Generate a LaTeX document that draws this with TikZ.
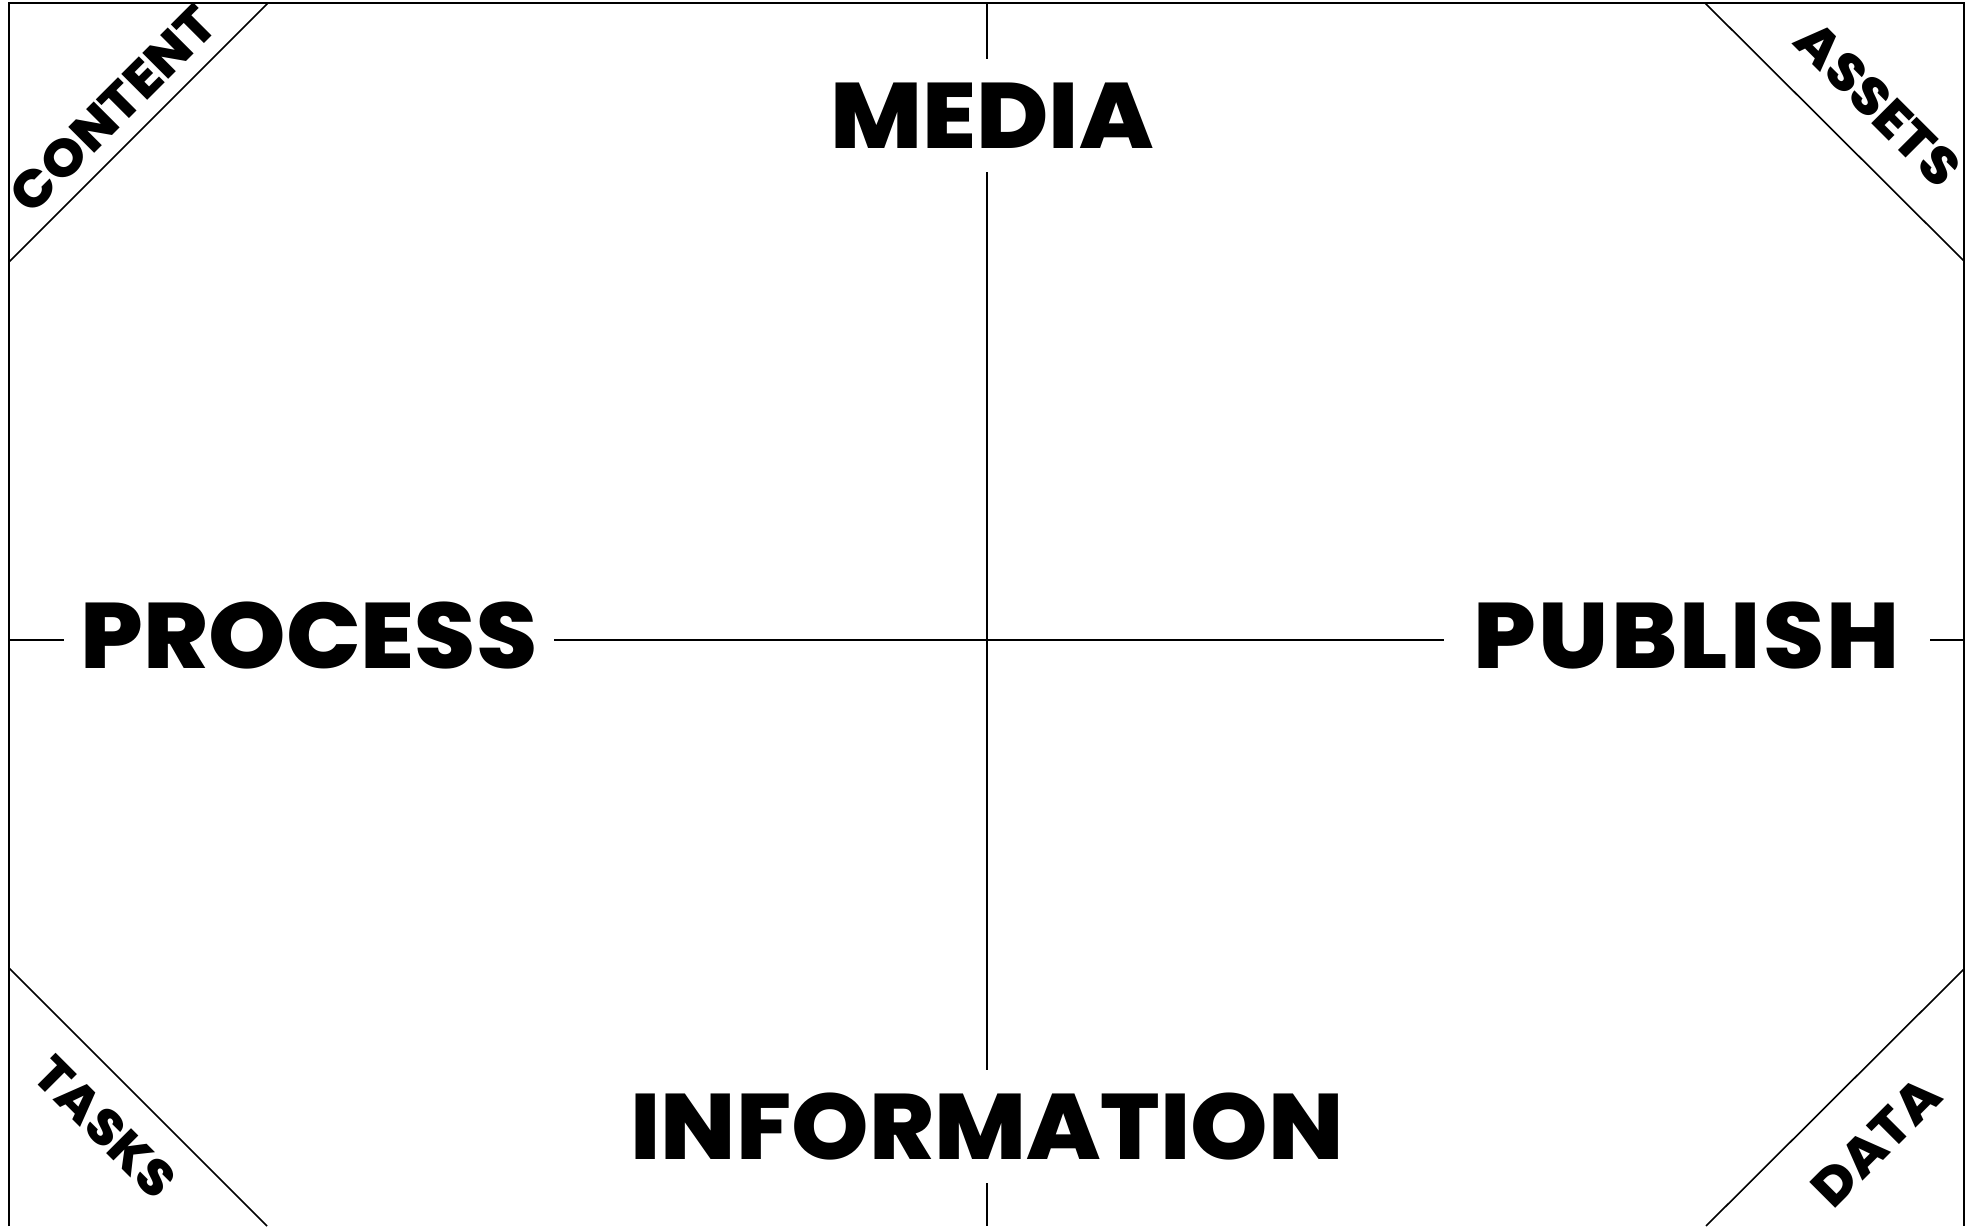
\documentclass[tikz,border=0pt]{standalone}
\usepackage{fontspec}
\setmainfont{Poppins}
\IfFontExistsTF{Poppins ExtraBold}
  {\newfontfamily\axisfont{Poppins ExtraBold}[FakeStretch=1.06]}
  {\newfontfamily\axisfont{Poppins}[FakeStretch=1.09,FakeBold=1.5]}
\begin{document}
\begin{tikzpicture}[x=1pt,y=-1pt,
  frame/.style={line width=2pt,black},
  axis/.style={line width=2.4pt,black},
  diag/.style={line width=1.6pt,black},
  big/.style={font=\fontsize{93}{93}\selectfont\axisfont,text height=65pt,text depth=0pt,inner ysep=24pt,inner xsep=17pt},
  corner/.style={font=\fontsize{52}{52}\selectfont\axisfont,inner sep=0pt}]
\useasboundingbox (0,0) rectangle (1977,1226);
\fill[white] (0,0) rectangle (1977,1226);

% outer frame, open at the bottom edge
\coordinate (fbl) at (9,1226);
\coordinate (ftl) at (9,3);
\coordinate (ftr) at (1964,3);
\coordinate (fbr) at (1964,1226);
\draw[frame] (fbl) -- (ftl) -- (ftr) -- (fbr);

% corner cut-offs
\coordinate (c1a) at (268,3);   \coordinate (c1b) at (9,262);
\coordinate (c2a) at (1705,3);  \coordinate (c2b) at (1964,261);
\coordinate (c3a) at (9,968);   \coordinate (c3b) at (267,1226);
\coordinate (c4a) at (1964,969);\coordinate (c4b) at (1706,1226);
\draw[diag] (c1a) -- (c1b);
\draw[diag] (c2a) -- (c2b);
\draw[diag] (c3a) -- (c3b);
\draw[diag] (c4a) -- (c4b);

% corner labels
\node[corner,rotate=45]  (content) at (113,109)  {CONTENT};
\node[corner,rotate=-45] (assets)  at (1878,104) {ASSETS};
\node[corner,rotate=-45,font=\fontsize{50}{50}\selectfont\axisfont] (tasks) at (105,1127) {TASKS};
\node[corner,rotate=45]  (data)    at (1876,1142) {DATA};

% axis labels
\node[big,anchor=base] (media)   at (992,148)  {MEDIA};
\node[big,anchor=base] (info)    at (987,1159) {INFORMATION};
\node[big,anchor=base] (process) at (309,668)  {PROCESS};
\node[big,anchor=base,inner xsep=30pt] (publish) at (1687,668)
  {\addfontfeature{LetterSpace=2.5}PUBLISH};

% axes
\coordinate (top)    at (987,3);
\coordinate (bottom) at (987,1226);
\coordinate (left)   at (9,640);
\coordinate (right)  at (1964,640);
\draw[axis] (top) -- (top |- media.north);
\draw[axis] (top |- media.south) -- (top |- info.north);
\draw[axis] (top |- info.south) -- (bottom);
\draw[axis] (left) -- (left -| process.west);
\draw[axis] (left -| process.east) -- (left -| publish.west);
\draw[axis] (left -| publish.east) -- (right);
\end{tikzpicture}
\end{document}
